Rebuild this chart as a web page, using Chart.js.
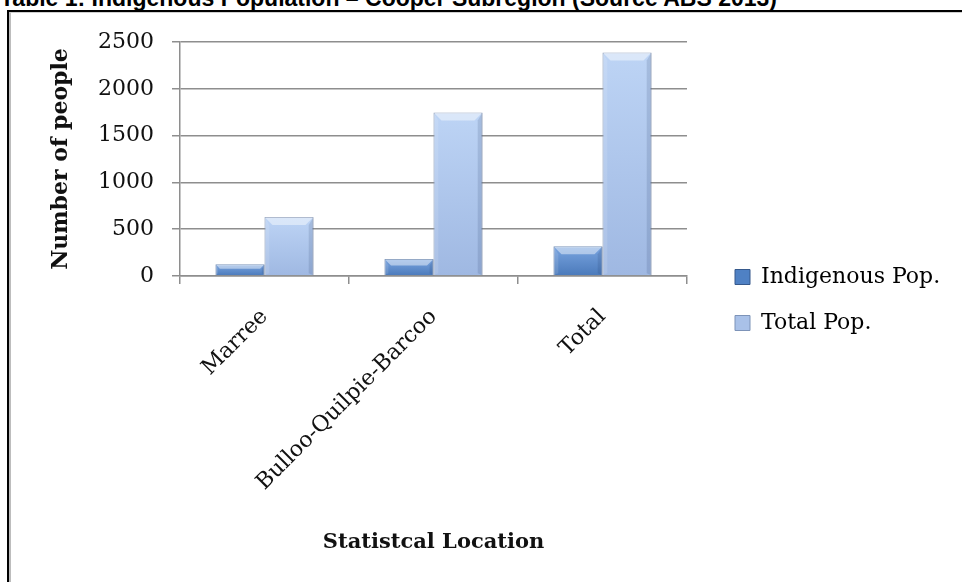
<!DOCTYPE html>
<html><head><meta charset="utf-8">
<script src="https://cdn.jsdelivr.net/npm/chart.js@4"></script>
<style>
html,body{margin:0;padding:0;background:#fff;width:962px;height:582px;overflow:hidden;}
#title{position:absolute;left:0;top:-13px;font:bold 23px "Liberation Sans",Arial,sans-serif;white-space:nowrap;color:#000;line-height:23px;letter-spacing:0px;}
#frame{position:absolute;left:7px;top:10px;width:1000px;height:1000px;border-left:2px solid #000;border-top:2px solid #000;}
#frame2{position:absolute;left:9px;top:12px;width:1000px;height:1000px;border-left:2px solid #bdbdbd;border-top:1px solid #cfcfcf;}
#wrap{position:absolute;left:0;top:0;width:962px;height:582px;}
</style></head><body>
<div id="title">Table 1: Indigenous Population – Cooper Subregion (Source ABS 2013)</div>
<div id="frame"></div><div id="frame2"></div>
<div id="wrap"><canvas id="c" width="962" height="582"></canvas></div>
<script>
const categories = ['Marree', 'Bulloo-Quilpie-Barcoo', 'Total'];
const indigenousPop = [125, 182, 317];
const totalPop = [630, 1746, 2387];
const seriesNames = ['Indigenous Pop.', 'Total Pop.'];
const yTicks = [0, 500, 1000, 1500, 2000, 2500];
const xTitle = 'Statistcal Location';
const yTitle = 'Number of people';

const SERIF = '"DejaVu Serif", "Liberation Serif", serif';

function barGradient(c0, c1) {
  return function (ctx) {
    const chart = ctx.chart;
    if (!chart.chartArea || ctx.type !== 'data' || !chart.scales.y) return c1;
    const ys = chart.scales.y;
    const top = ys.getPixelForValue(ctx.raw);
    const bottom = ys.getPixelForValue(0);
    if (!isFinite(top) || !isFinite(bottom) || bottom - top < 1) return c1;
    const g = chart.ctx.createLinearGradient(0, top, 0, bottom);
    g.addColorStop(0, c0);
    g.addColorStop(1, c1);
    return g;
  };
}

const bevel = {
  id: 'bevel',
  afterDatasetsDraw(chart) {
    const ctx = chart.ctx;
    chart.data.datasets.forEach((ds, di) => {
      const meta = chart.getDatasetMeta(di);
      meta.data.forEach(bar => {
        const w = bar.width, left = bar.x - w / 2, right = bar.x + w / 2;
        const top = bar.y, bottom = bar.base;
        const h = bottom - top;
        const d = Math.min(8, h / 2.5);
        ctx.save();
        ctx.fillStyle = 'rgba(255,255,255,0.45)';
        ctx.beginPath();
        ctx.moveTo(left, top); ctx.lineTo(right, top);
        ctx.lineTo(right - d, top + d); ctx.lineTo(left + d, top + d); ctx.closePath(); ctx.fill();
        ctx.fillStyle = 'rgba(255,255,255,0.12)';
        ctx.beginPath();
        ctx.moveTo(left, top); ctx.lineTo(left + d * 0.6, top + d); ctx.lineTo(left + d * 0.6, bottom - 2); ctx.lineTo(left, bottom); ctx.closePath(); ctx.fill();
        ctx.fillStyle = 'rgba(30,50,90,0.14)';
        ctx.beginPath();
        ctx.moveTo(right, top); ctx.lineTo(right - d * 0.6, top + d); ctx.lineTo(right - d * 0.6, bottom - 2); ctx.lineTo(right, bottom); ctx.closePath(); ctx.fill();
        ctx.restore();
      });
    });
  }
};

const legendMover = {
  id: 'legendMover',
  afterUpdate(chart) {
    const l = chart.legend;
    if (!l) return;
    const w = l.right - l.left, h = l.bottom - l.top;
    l.left = 711; l.right = 711 + Math.max(w, 240);
    l.top = 242; l.bottom = 242 + Math.max(h, 130);
  }
};

new Chart(document.getElementById('c'), {
  type: 'bar',
  data: {
    labels: categories,
    datasets: [
      { label: seriesNames[0], data: indigenousPop,
        backgroundColor: barGradient('#7aa5e0', '#4a79ba'),
        borderColor: '#3f6398', borderWidth: 1 },
      { label: seriesNames[1], data: totalPop,
        backgroundColor: barGradient('#bdd4f5', '#9fb8e2'),
        borderColor: '#6f84a8', borderWidth: 1 }
    ]
  },
  options: {
    responsive: false,
    animation: false,
    categoryPercentage: 0.58,
    barPercentage: 1,
    layout: { padding: { left: 48, top: 42, right: 275, bottom: 27 } },
    plugins: {
      legend: {
        position: 'chartArea',
        align: 'start',
        labels: {
          boxWidth: 15, boxHeight: 15, padding: 24,
          color: '#111',
          font: { family: SERIF, size: 22 },
          generateLabels(chart) {
            const cols = ['#4f81c4', '#a9c1e8'];
            return chart.data.datasets.map((ds, i) => ({
              text: ds.label, fillStyle: cols[i], strokeStyle: i ? '#7d93b8' : '#36598c',
              lineWidth: 1, hidden: false, datasetIndex: i
            }));
          }
        }
      },
      tooltip: { enabled: false }
    },
    scales: {
      x: {
        grid: { drawOnChartArea: false, drawTicks: true, tickLength: 8, color: '#8e8e8e', lineWidth: 1.5, offset: true },
        border: { display: true, color: '#8e8e8e', width: 1.5 },
        ticks: { color: '#111', font: { family: SERIF, size: 22 }, minRotation: 45, maxRotation: 45, padding: 20 },
        title: { display: true, text: xTitle, color: '#111', font: { family: SERIF, size: 21, weight: 'bold' }, padding: 0 },
        afterFit(scale) { scale.height = 279; }
      },
      y: {
        min: 0, max: 2500,
        afterBuildTicks(scale) { scale.ticks = yTicks.map(v => ({ value: v })); },
        grid: { color: '#8e8e8e', lineWidth: 1.5, tickLength: 8 },
        border: { display: true, color: '#8e8e8e', width: 1.5 },
        ticks: { color: '#111', font: { family: SERIF, size: 22 }, padding: 18, callback: v => String(v) },
        title: { display: true, text: yTitle, color: '#111', font: { family: SERIF, size: 22, weight: 'bold' }, padding: 0 },
        afterFit(scale) { scale.width = 132; }
      }
    }
  },
  plugins: [bevel, legendMover]
});
</script>
</body></html>
